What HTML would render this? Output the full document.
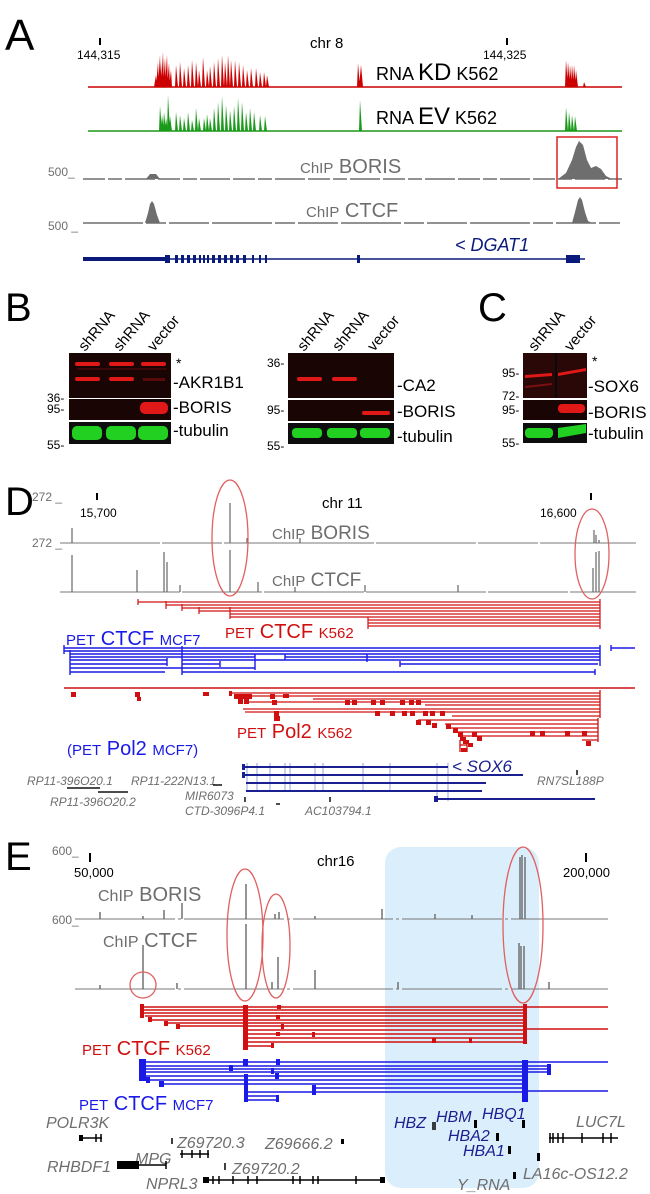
<!DOCTYPE html>
<html><head><meta charset="utf-8"><style>
html,body{margin:0;padding:0;background:#fff;}
svg{display:block;font-family:"Liberation Sans",Arial,sans-serif;}
.g{fill:#6e6e6e}
.it{font-style:italic}
</style></head><body>
<svg width="650" height="1194" viewBox="0 0 650 1194" xmlns="http://www.w3.org/2000/svg">
<!-- ================= PANEL A ================= -->
<text x="5" y="50" font-size="44">A</text>
<rect x="99" y="38" width="2" height="7" fill="#000"/>
<text x="77" y="59" font-size="12">144,315</text>
<text x="310" y="48" font-size="15">chr 8</text>
<rect x="506" y="38" width="2" height="7" fill="#000"/>
<text x="483" y="59" font-size="12">144,325</text>

<!-- RNA KD -->
<line x1="88" y1="87" x2="622" y2="87" stroke="#c00" stroke-width="1.5"/>
<path fill="#c00" d="M154 87L156 75L157 87ZM156 87L158 62L159 87ZM158 87L160 55L161 87ZM160 87L161 62L162 87ZM161 87L163 52L164 87ZM163 87L165 58L166 87ZM165 87L167 55L168 87ZM167 87L169 63L170 87ZM169 87L171 70L172 87ZM175 87L176 65L178 87ZM179 87L180 62L182 87ZM183 87L184 68L186 87ZM187 87L188 65L190 87ZM191 87L192 60L194 87ZM195 87L196 62L198 87ZM198 87L199 70L201 87ZM202 87L203 57L205 87ZM206 87L207 70L209 87ZM209 87L210 66L212 87ZM213 87L214 62L216 87ZM217 87L218 58L220 87ZM221 87L222 55L224 87ZM224 87L225 62L227 87ZM227 87L228 55L230 87ZM230 87L231 60L233 87ZM234 87L235 60L237 87ZM238 87L239 62L241 87ZM242 87L243 65L245 87ZM246 87L247 70L249 87ZM250 87L251 68L253 87ZM255 87L256 68L258 87ZM259 87L260 72L262 87ZM263 87L264 72L266 87ZM266 87L267 75L269 87ZM357 87L358 63L360 87ZM359 87L361 65L363 87ZM565 87L566 60L568 87ZM567 87L568 62L570 87ZM569 87L570 65L572 87ZM571 87L572 65L574 87ZM573 87L574 65L576 87ZM575 87L576 70L578 87ZM583 87L584 82L586 87Z"/>
<text x="376" y="80" font-size="18">RNA <tspan font-size="24">KD</tspan> K562</text>

<!-- RNA EV -->
<line x1="88" y1="131" x2="622" y2="131" stroke="#1a9a1a" stroke-width="1.5"/>
<path fill="#1a9a1a" d="M159 131L160 106L162 131ZM161 131L162 115L164 131ZM163 131L164 112L166 131ZM165 131L166 118L168 131ZM167 131L168 95L170 131ZM169 131L170 116L172 131ZM175 131L176 112L178 131ZM179 131L180 115L182 131ZM183 131L184 118L186 131ZM187 131L188 112L190 131ZM191 131L192 120L194 131ZM195 131L196 108L198 131ZM198 131L199 118L201 131ZM203 131L204 118L206 131ZM206 131L207 114L209 131ZM209 131L210 118L212 131ZM213 131L214 108L216 131ZM217 131L218 102L220 131ZM221 131L222 96L224 131ZM225 131L226 105L228 131ZM229 131L230 110L232 131ZM233 131L234 106L236 131ZM237 131L238 98L240 131ZM241 131L242 102L244 131ZM245 131L246 112L248 131ZM249 131L250 108L252 131ZM253 131L254 112L256 131ZM259 131L260 115L262 131ZM264 131L265 116L267 131ZM359 131L360 100L362 131ZM565 131L566 107L568 131ZM568 131L569 112L571 131ZM571 131L572 115L574 131ZM574 131L575 116L577 131Z"/>
<text x="376" y="124" font-size="18">RNA <tspan font-size="24">EV</tspan> K562</text>

<!-- ChIP BORIS A -->
<text x="48" y="176" font-size="12" class="g">500_</text>
<line x1="83" y1="179" x2="622" y2="179" stroke="#6e6e6e" stroke-width="1.5" stroke-dasharray="22 3 14 3 30 3"/>
<path fill="#6e6e6e" d="M146 179L150 174L156 174L160 179Z"/>
<path fill="#6e6e6e" d="M558 179L566 173L572 160L576 147L579 141L583 145L587 160L591 168L596 166L601 169L606 176L612 179Z"/>
<rect x="557" y="137" width="60" height="51" fill="none" stroke="#d22" stroke-width="1.5"/>
<text x="300" y="173" font-size="20" class="g"><tspan font-size="15">ChIP</tspan> BORIS</text>
<text x="48" y="230" font-size="12" class="g">500 _</text>

<!-- ChIP CTCF A -->
<line x1="83" y1="223" x2="620" y2="223" stroke="#6e6e6e" stroke-width="1.5" stroke-dasharray="60 3 20 3 40 3"/>
<path fill="#6e6e6e" d="M145 223L148 213L150 204L152 201L154 204L157 215L160 223Z"/>
<path fill="#6e6e6e" d="M572 223L575 212L578 200L580 197L582 200L585 212L588 221L592 223Z"/>
<text x="306" y="217" font-size="20" class="g"><tspan font-size="15">ChIP</tspan> CTCF</text>

<!-- DGAT1 -->
<line x1="83" y1="259" x2="165" y2="259" stroke="#0a1a7a" stroke-width="4"/>
<line x1="165" y1="259" x2="585" y2="259" stroke="#0a1a7a" stroke-width="1.5"/>
<g fill="#0a1a7a">
<rect x="165" y="255" width="5" height="8"/><rect x="175" y="255" width="3" height="8"/><rect x="181" y="255" width="3" height="8"/><rect x="187" y="255" width="3" height="8"/><rect x="193" y="255" width="3" height="8"/><rect x="199" y="255" width="2" height="8"/><rect x="203" y="255" width="2" height="8"/><rect x="207" y="255" width="2" height="8"/><rect x="212" y="255" width="3" height="8"/><rect x="218" y="255" width="3" height="8"/><rect x="224" y="255" width="3" height="8"/><rect x="230" y="255" width="3" height="8"/><rect x="236" y="255" width="3" height="8"/><rect x="243" y="255" width="3" height="8"/><rect x="252" y="255" width="2" height="8"/><rect x="259" y="255" width="2" height="8"/><rect x="265" y="255" width="2" height="8"/>
<rect x="357" y="255" width="3" height="8"/>
<rect x="566" y="255" width="14" height="8"/>
</g>
<text x="455" y="251" font-size="18" fill="#0a1a7a" class="it">&lt; DGAT1</text>

<!-- ================= PANEL B ================= -->
<text x="5" y="321" font-size="40">B</text>
<g font-size="15">
<text transform="translate(85,352) rotate(-50)">shRNA</text>
<text transform="translate(120,352) rotate(-50)">shRNA</text>
<text transform="translate(154,352) rotate(-50)">vector</text>
<text transform="translate(304,352) rotate(-50)">shRNA</text>
<text transform="translate(339,352) rotate(-50)">shRNA</text>
<text transform="translate(374,352) rotate(-50)">vector</text>
<text transform="translate(535,352) rotate(-50)">shRNA</text>
<text transform="translate(571,352) rotate(-50)">vector</text>
</g>
<!-- blot 1 -->
<rect x="69" y="353" width="102" height="45" fill="#1a0505"/>
<rect x="69" y="399" width="102" height="21" fill="#1a0505"/>
<rect x="69" y="422" width="102" height="22" fill="#0d0d0d"/>
<g fill="#e01818">
<rect x="75" y="362" width="25" height="4" rx="2"/><rect x="109" y="362" width="25" height="4" rx="2"/><rect x="141" y="362" width="25" height="4" rx="2"/>
<rect x="75" y="377" width="25" height="4" rx="2"/><rect x="109" y="377" width="25" height="4" rx="2"/>
<rect x="140" y="402" width="28" height="12" rx="5"/>
</g>
<rect x="143" y="378" width="22" height="3" fill="#5a0a0a"/>
<rect x="77" y="368" width="90" height="2" fill="#3a0808"/>
<g fill="#22d022">
<rect x="72" y="426" width="30" height="14" rx="5"/><rect x="106" y="426" width="30" height="14" rx="5"/><rect x="138" y="426" width="30" height="14" rx="5"/>
</g>
<g font-size="17">
<text x="176" y="368" font-size="14">*</text>
<text x="173" y="388">-AKR1B1</text>
<text x="173" y="413">-BORIS</text>
<text x="173" y="436">-tubulin</text>
</g>
<g font-size="12">
<text x="47" y="402">36-</text><text x="47" y="413">95-</text><text x="47" y="449">55-</text>
</g>
<!-- blot 2 -->
<rect x="288" y="353" width="106" height="45" fill="#1a0505"/>
<rect x="288" y="400" width="106" height="21" fill="#1a0505"/>
<rect x="288" y="423" width="106" height="21" fill="#0d0d0d"/>
<g fill="#e01818">
<rect x="297" y="377" width="25" height="4" rx="2"/><rect x="332" y="377" width="25" height="4" rx="2"/>
<rect x="362" y="411" width="28" height="4" rx="2"/>
</g>
<g fill="#22d022">
<rect x="292" y="428" width="30" height="10" rx="4"/><rect x="327" y="428" width="30" height="10" rx="4"/><rect x="360" y="428" width="30" height="10" rx="4"/>
</g>
<g font-size="17">
<text x="397" y="391">-CA2</text>
<text x="397" y="417">-BORIS</text>
<text x="397" y="442">-tubulin</text>
</g>
<g font-size="12">
<text x="267" y="367">36-</text><text x="267" y="414">95-</text><text x="267" y="450">55-</text>
</g>
<!-- panel C -->
<text x="478" y="321" font-size="40">C</text>
<rect x="523" y="353" width="64" height="45" fill="#2a0808"/>
<rect x="555" y="353" width="2" height="45" fill="#0a0a0a"/>
<rect x="523" y="400" width="64" height="20" fill="#1a0505"/>
<rect x="523" y="423" width="64" height="20" fill="#0d0d0d"/>
<g fill="#e01818">
<path d="M525 375L552 373L552 376L525 378Z"/><path d="M558 373L586 368L586 371L558 376Z"/>
<rect x="558" y="404" width="27" height="9" rx="4"/>
</g>
<path d="M525 386L552 383L552 385L525 388Z" fill="#7a1010"/>
<g fill="#22d022">
<rect x="525" y="428" width="28" height="10" rx="4"/><path d="M558 428L586 424L586 433L558 438Z"/>
</g>
<g font-size="17">
<text x="592" y="366" font-size="14">*</text>
<text x="588" y="392">-SOX6</text>
<text x="588" y="418">-BORIS</text>
<text x="588" y="439">-tubulin</text>
</g>
<g font-size="12">
<text x="502" y="377">95-</text><text x="502" y="400">72-</text><text x="502" y="414">95-</text><text x="502" y="447">55-</text>
</g>

<!-- ================= PANEL D ================= -->
<text x="5" y="515" font-size="40">D</text>
<text x="32" y="501" font-size="12" class="g">272 _</text>
<text x="32" y="547" font-size="12" class="g">272 _</text>
<rect x="96" y="493" width="2" height="7" fill="#000"/>
<text x="80" y="517" font-size="12">15,700</text>
<text x="322" y="508" font-size="15">chr 11</text>
<rect x="590" y="493" width="2" height="7" fill="#000"/>
<text x="540" y="517" font-size="12">16,600</text>
<line x1="60" y1="543" x2="636" y2="543" stroke="#777" stroke-width="1" stroke-dasharray="100 2 60 2 150 2"/>
<g stroke="#666" stroke-width="1.2">
<line x1="72" y1="543" x2="72" y2="528"/><line x1="230" y1="543" x2="230" y2="503"/><line x1="247" y1="543" x2="247" y2="538"/><line x1="300" y1="543" x2="300" y2="538"/>
<line x1="594" y1="543" x2="594" y2="530"/><line x1="596" y1="543" x2="596" y2="535"/><line x1="599" y1="543" x2="599" y2="540"/>
</g>
<text x="272" y="539" font-size="19" class="g"><tspan font-size="15">ChIP</tspan> BORIS</text>
<line x1="60" y1="592" x2="636" y2="592" stroke="#777" stroke-width="1" stroke-dasharray="120 2 80 2 100 2"/>
<g stroke="#666" stroke-width="1.2">
<line x1="72" y1="592" x2="72" y2="555"/><line x1="137" y1="592" x2="137" y2="570"/><line x1="164" y1="592" x2="164" y2="552"/><line x1="167" y1="592" x2="167" y2="562"/><line x1="180" y1="592" x2="180" y2="585"/><line x1="230" y1="592" x2="230" y2="550"/><line x1="258" y1="592" x2="258" y2="582"/><line x1="295" y1="592" x2="295" y2="587"/><line x1="365" y1="592" x2="365" y2="585"/><line x1="458" y1="592" x2="458" y2="585"/><line x1="593" y1="592" x2="593" y2="568"/><line x1="596" y1="592" x2="596" y2="552"/><line x1="599" y1="592" x2="599" y2="551"/>
</g>
<text x="272" y="586" font-size="19" class="g"><tspan font-size="15">ChIP</tspan> CTCF</text>
<ellipse cx="230" cy="538" rx="18" ry="58" fill="none" stroke="#e06060" stroke-width="1.3"/>
<ellipse cx="592" cy="554" rx="17" ry="45" fill="none" stroke="#e06060" stroke-width="1.3"/>

<!-- PET CTCF K562 (D) -->
<g stroke="#d01010" stroke-width="1.2" fill="none">
<line x1="138" y1="602" x2="600" y2="602"/>
<line x1="166" y1="605" x2="600" y2="605"/>
<line x1="182" y1="608" x2="600" y2="608"/>
<line x1="199" y1="611" x2="600" y2="611"/>
<line x1="230" y1="614" x2="600" y2="614"/>
<line x1="230" y1="617" x2="600" y2="617"/>
<line x1="368" y1="620" x2="600" y2="620"/>
<line x1="368" y1="623" x2="600" y2="623"/>
<line x1="368" y1="626" x2="600" y2="626"/>
<line x1="138" y1="599" x2="138" y2="605"/><line x1="166" y1="601" x2="166" y2="609"/><line x1="182" y1="604" x2="182" y2="611"/><line x1="199" y1="607" x2="199" y2="614"/><line x1="230" y1="607" x2="230" y2="619"/><line x1="368" y1="617" x2="368" y2="629"/><line x1="600" y1="599" x2="600" y2="629"/>
</g>
<text x="225" y="638" font-size="20" fill="#d01010"><tspan font-size="15">PET</tspan> CTCF <tspan font-size="15">K562</tspan></text>
<text x="66" y="645" font-size="20" fill="#1a1ae6"><tspan font-size="15">PET</tspan> CTCF <tspan font-size="15">MCF7</tspan></text>

<!-- PET CTCF MCF7 (D) -->
<g stroke="#1a1ae6" stroke-width="1.4" fill="none">
<line x1="64" y1="648" x2="600" y2="648"/><line x1="611" y1="648" x2="635" y2="648"/>
<line x1="64" y1="651" x2="600" y2="651"/>
<line x1="70" y1="654" x2="600" y2="654"/>
<line x1="70" y1="657" x2="255" y2="657"/><line x1="285" y1="657" x2="600" y2="657"/>
<line x1="70" y1="660" x2="167" y2="660"/><line x1="182" y1="660" x2="600" y2="660"/>
<line x1="70" y1="664" x2="167" y2="664"/><line x1="182" y1="664" x2="220" y2="664"/><line x1="400" y1="664" x2="598" y2="664"/>
<line x1="70" y1="668" x2="255" y2="668"/>
<line x1="70" y1="672" x2="165" y2="672"/><line x1="182" y1="672" x2="595" y2="672"/>
<line x1="64" y1="645" x2="64" y2="654"/><line x1="70" y1="650" x2="70" y2="675"/><line x1="182" y1="646" x2="182" y2="675"/><line x1="167" y1="658" x2="167" y2="666"/><line x1="255" y1="654" x2="255" y2="670"/><line x1="220" y1="661" x2="220" y2="667"/><line x1="600" y1="645" x2="600" y2="666"/><line x1="595" y1="669" x2="595" y2="675"/><line x1="611" y1="645" x2="611" y2="651"/>
<line x1="285" y1="654" x2="285" y2="660"/><line x1="367" y1="654" x2="367" y2="662"/><line x1="400" y1="661" x2="400" y2="667"/>
</g>

<!-- PET Pol2 K562 (D) -->
<line x1="64" y1="688" x2="635" y2="688" stroke="#d01010" stroke-width="1.5"/>
<g stroke="#d01010" stroke-width="1.3" fill="none">
<line x1="230" y1="693" x2="600" y2="693"/>
<line x1="235" y1="696" x2="600" y2="696"/>
<line x1="313" y1="699" x2="600" y2="699"/>
<line x1="245" y1="702" x2="600" y2="702"/>
<line x1="425" y1="705" x2="600" y2="705"/>
<line x1="243" y1="709" x2="600" y2="709"/>
<line x1="245" y1="712" x2="600" y2="712"/>
<line x1="452" y1="716" x2="600" y2="716"/>
<line x1="418" y1="720" x2="598" y2="720"/>
<line x1="445" y1="724" x2="598" y2="724"/>
<line x1="447" y1="728" x2="598" y2="728"/>
<line x1="455" y1="732" x2="598" y2="732"/>
<line x1="459" y1="736" x2="598" y2="736"/>
<line x1="582" y1="740" x2="598" y2="740"/>
<line x1="600" y1="690" x2="600" y2="718"/><line x1="598" y1="718" x2="598" y2="742"/>
<line x1="460" y1="740" x2="460" y2="752"/><line x1="467" y1="740" x2="467" y2="752"/><line x1="460" y1="745" x2="467" y2="745"/>
</g>
<g fill="#d01010">
<rect x="71" y="692" width="5" height="5"/><rect x="135" y="692" width="5" height="5"/><rect x="137" y="697" width="4" height="4"/><rect x="203" y="692" width="6" height="4"/><rect x="229" y="691" width="3" height="5"/>
<rect x="234" y="694" width="6" height="5"/><rect x="240" y="694" width="6" height="5"/><rect x="246" y="694" width="6" height="5"/><rect x="238" y="699" width="5" height="5"/><rect x="244" y="699" width="5" height="5"/><rect x="270" y="694" width="5" height="5"/><rect x="272" y="700" width="5" height="5"/><rect x="283" y="694" width="6" height="4"/>
<rect x="345" y="700" width="5" height="5"/><rect x="352" y="700" width="5" height="5"/><rect x="371" y="700" width="5" height="5"/><rect x="380" y="700" width="5" height="5"/><rect x="400" y="700" width="5" height="5"/><rect x="409" y="700" width="5" height="5"/><rect x="416" y="700" width="5" height="5"/>
<rect x="274" y="711" width="5" height="5"/><rect x="274" y="716" width="6" height="5"/>
<rect x="375" y="711" width="5" height="5"/><rect x="390" y="711" width="5" height="5"/><rect x="402" y="711" width="5" height="5"/><rect x="410" y="711" width="5" height="5"/><rect x="423" y="711" width="5" height="5"/><rect x="430" y="711" width="5" height="5"/><rect x="440" y="711" width="5" height="5"/>
<rect x="416" y="720" width="5" height="5"/><rect x="426" y="720" width="5" height="5"/><rect x="432" y="723" width="5" height="5"/><rect x="446" y="724" width="5" height="5"/><rect x="453" y="728" width="5" height="5"/><rect x="458" y="732" width="5" height="5"/><rect x="460" y="737" width="6" height="4"/><rect x="463" y="740" width="6" height="4"/><rect x="468" y="743" width="5" height="4"/>
<rect x="472" y="732" width="5" height="5"/><rect x="477" y="736" width="5" height="5"/><rect x="530" y="731" width="5" height="5"/><rect x="540" y="731" width="5" height="5"/><rect x="565" y="731" width="5" height="5"/><rect x="582" y="731" width="5" height="5"/>
<rect x="461" y="748" width="6" height="4"/><rect x="586" y="741" width="5" height="5"/>
</g>
<text x="237" y="738" font-size="20" fill="#d01010"><tspan font-size="15">PET</tspan> Pol2 <tspan font-size="15">K562</tspan></text>
<text x="67" y="755" font-size="20" fill="#1a1ae6"><tspan font-size="15">(PET</tspan> Pol2 <tspan font-size="15">MCF7)</tspan></text>

<!-- SOX6 genes -->
<g stroke="#9aa0e0" stroke-width="1">
<line x1="247" y1="763" x2="247" y2="792"/><line x1="257" y1="763" x2="257" y2="792"/><line x1="270" y1="763" x2="270" y2="792"/><line x1="285" y1="763" x2="285" y2="792"/><line x1="290" y1="763" x2="290" y2="792"/><line x1="315" y1="763" x2="315" y2="792"/><line x1="323" y1="763" x2="323" y2="792"/><line x1="363" y1="763" x2="363" y2="792"/><line x1="390" y1="763" x2="390" y2="792"/><line x1="437" y1="763" x2="437" y2="801"/><line x1="448" y1="763" x2="448" y2="801"/>
</g>
<g stroke="#1a2090" stroke-width="2">
<line x1="243" y1="767" x2="448" y2="767"/>
<line x1="243" y1="775" x2="523" y2="775"/>
<line x1="246" y1="783" x2="486" y2="783"/>
<line x1="246" y1="791" x2="482" y2="791"/>
<line x1="434" y1="799" x2="595" y2="799"/>
</g>
<rect x="242" y="764" width="3" height="6" fill="#1a2090"/><rect x="242" y="772" width="3" height="6" fill="#1a2090"/><rect x="434" y="796" width="4" height="6" fill="#1a2090"/>
<text x="452" y="772" font-size="17" fill="#1a2090" class="it">&lt; SOX6</text>
<g font-size="12" class="g it">
<text x="27" y="785">RP11-396O20.1</text>
<text x="131" y="785">RP11-222N13.1</text>
<text x="50" y="806">RP11-396O20.2</text>
<text x="185" y="800">MIR6073</text>
<text x="185" y="815">CTD-3096P4.1</text>
<text x="305" y="815">AC103794.1</text>
<text x="537" y="785">RN7SL188P</text>
</g>
<g stroke="#111" stroke-width="1.5">
<line x1="67" y1="788" x2="100" y2="788"/><line x1="98" y1="792" x2="128" y2="792"/><line x1="213" y1="785" x2="222" y2="785"/><line x1="245" y1="797" x2="245" y2="802"/><line x1="276" y1="804" x2="280" y2="804"/><line x1="330" y1="797" x2="330" y2="802"/><line x1="577" y1="770" x2="577" y2="775"/>
</g>

<!-- ================= PANEL E ================= -->
<rect x="385" y="847" width="154" height="341" rx="16" fill="#dbeefb"/>
<text x="5" y="870" font-size="40">E</text>
<text x="52" y="855" font-size="12" class="g">600_</text>
<text x="52" y="924" font-size="12" class="g">600_</text>
<rect x="89" y="853" width="2" height="9" fill="#000"/>
<text x="74" y="877" font-size="13">50,000</text>
<text x="317" y="866" font-size="15">chr16</text>
<rect x="585" y="853" width="2" height="9" fill="#000"/>
<text x="563" y="877" font-size="13">200,000</text>

<line x1="75" y1="919" x2="608" y2="919" stroke="#777" stroke-width="1" stroke-dasharray="100 3 3 3"/>
<g stroke="#666" stroke-width="1.4">
<line x1="100" y1="919" x2="100" y2="912"/><line x1="143" y1="919" x2="143" y2="916"/><line x1="164" y1="919" x2="164" y2="910"/><line x1="182" y1="919" x2="182" y2="903"/><line x1="246" y1="919" x2="246" y2="884"/><line x1="275" y1="919" x2="275" y2="914"/><line x1="279" y1="919" x2="279" y2="912"/><line x1="315" y1="919" x2="315" y2="916"/><line x1="382" y1="919" x2="382" y2="909"/><line x1="435" y1="919" x2="435" y2="914"/><line x1="472" y1="919" x2="472" y2="915"/>
<line x1="520" y1="919" x2="520" y2="857"/><line x1="522" y1="919" x2="522" y2="855"/><line x1="525" y1="919" x2="525" y2="857"/>
</g>
<text x="98" y="901" font-size="20" class="g"><tspan font-size="16">ChIP</tspan> BORIS</text>
<line x1="75" y1="989" x2="608" y2="989" stroke="#777" stroke-width="1" stroke-dasharray="100 3 3 3"/>
<g stroke="#666" stroke-width="1.4">
<line x1="100" y1="989" x2="100" y2="985"/><line x1="143" y1="989" x2="143" y2="945"/><line x1="177" y1="989" x2="177" y2="983"/><line x1="246" y1="989" x2="246" y2="924"/><line x1="272" y1="989" x2="272" y2="982"/><line x1="278" y1="989" x2="278" y2="957"/><line x1="315" y1="989" x2="315" y2="970"/><line x1="398" y1="989" x2="398" y2="982"/>
<line x1="519" y1="989" x2="519" y2="943"/><line x1="521" y1="989" x2="521" y2="946"/><line x1="524" y1="989" x2="524" y2="946"/><line x1="549" y1="989" x2="549" y2="982"/>
</g>
<text x="103" y="947" font-size="20" class="g"><tspan font-size="16">ChIP</tspan> CTCF</text>
<g fill="none" stroke="#e06060" stroke-width="1.3">
<circle cx="143" cy="985" r="13"/>
<ellipse cx="245" cy="935" rx="18" ry="66"/>
<ellipse cx="276" cy="946" rx="14" ry="52"/>
<ellipse cx="523" cy="925" rx="20" ry="78"/>
</g>

<!-- PET CTCF K562 (E) -->
<g stroke="#d01010" stroke-width="1.4" fill="none">
<line x1="142" y1="1007" x2="608" y2="1007"/>
<line x1="142" y1="1010" x2="525" y2="1010"/>
<line x1="142" y1="1013" x2="525" y2="1013"/>
<line x1="145" y1="1016" x2="525" y2="1016"/>
<line x1="150" y1="1020" x2="525" y2="1020"/>
<line x1="165" y1="1023" x2="525" y2="1023"/>
<line x1="177" y1="1026" x2="525" y2="1026"/>
<line x1="525" y1="1029" x2="608" y2="1029"/>
<line x1="245" y1="1030" x2="525" y2="1030"/>
<line x1="245" y1="1034" x2="525" y2="1034"/>
<line x1="245" y1="1038" x2="525" y2="1038"/>
<line x1="245" y1="1042" x2="525" y2="1042"/>
<line x1="245" y1="1046" x2="273" y2="1046"/>
</g>
<g fill="#d01010">
<rect x="140" y="1004" width="4" height="14"/><rect x="243" y="1005" width="5" height="45"/><rect x="277" y="1005" width="4" height="4"/><rect x="276" y="1015" width="4" height="4"/><rect x="281" y="1024" width="3" height="5"/><rect x="276" y="1032" width="4" height="4"/><rect x="312" y="1032" width="3" height="5"/><rect x="523" y="1004" width="4" height="40"/><rect x="148" y="1017" width="4" height="5"/><rect x="164" y="1021" width="4" height="5"/><rect x="176" y="1024" width="4" height="5"/><rect x="432" y="1038" width="4" height="5"/><rect x="469" y="1038" width="3" height="5"/><rect x="271" y="1043" width="3" height="5"/>
</g>
<text x="82" y="1055" font-size="20" fill="#d01010"><tspan font-size="15">PET</tspan> CTCF <tspan font-size="15">K562</tspan></text>

<!-- PET CTCF MCF7 (E) -->
<g stroke="#1a1ae6" stroke-width="1.5" fill="none">
<line x1="142" y1="1062" x2="608" y2="1062"/>
<line x1="142" y1="1066" x2="550" y2="1066"/>
<line x1="142" y1="1069" x2="550" y2="1069"/>
<line x1="142" y1="1072" x2="550" y2="1072"/>
<line x1="142" y1="1076" x2="525" y2="1076"/>
<line x1="147" y1="1080" x2="525" y2="1080"/>
<line x1="160" y1="1084" x2="525" y2="1084"/>
<line x1="313" y1="1088" x2="525" y2="1088"/><line x1="525" y1="1091" x2="608" y2="1091"/>
<line x1="245" y1="1092" x2="525" y2="1092"/>
<line x1="245" y1="1096" x2="278" y2="1096"/>
<line x1="245" y1="1100" x2="278" y2="1100"/>
</g>
<g fill="#1a1ae6">
<rect x="139" y="1059" width="7" height="22"/><rect x="243" y="1059" width="5" height="7"/><rect x="244" y="1074" width="4" height="28"/><rect x="276" y="1059" width="4" height="6"/><rect x="275" y="1073" width="4" height="6"/><rect x="229" y="1065" width="4" height="6"/><rect x="271" y="1068" width="3" height="6"/><rect x="159" y="1081" width="5" height="6"/><rect x="312" y="1085" width="4" height="10"/><rect x="522" y="1060" width="6" height="42"/><rect x="547" y="1064" width="4" height="11"/><rect x="276" y="1095" width="3" height="7"/><rect x="146" y="1077" width="4" height="6"/>
</g>
<text x="79" y="1110" font-size="20" fill="#1a1ae6"><tspan font-size="15">PET</tspan> CTCF <tspan font-size="15">MCF7</tspan></text>

<!-- Genes E -->
<g font-size="16" class="it">
<text x="46" y="1128" class="g">POLR3K</text>
<text x="177" y="1148" class="g">Z69720.3</text>
<text x="265" y="1149" class="g">Z69666.2</text>
<text x="135" y="1164" class="g">MPG</text>
<text x="47" y="1172" class="g">RHBDF1</text>
<text x="232" y="1174" class="g">Z69720.2</text>
<text x="146" y="1189" class="g">NPRL3</text>
<text x="576" y="1127" class="g">LUC7L</text>
<text x="523" y="1179" class="g">LA16c-OS12.2</text>
<text x="457" y="1190" class="g">Y_RNA</text>
<text x="394" y="1128" fill="#1a2090">HBZ</text>
<text x="436" y="1122" fill="#1a2090">HBM</text>
<text x="482" y="1119" fill="#1a2090">HBQ1</text>
<text x="448" y="1141" fill="#1a2090">HBA2</text>
<text x="463" y="1156" fill="#1a2090">HBA1</text>
</g>
<g stroke="#000" stroke-width="1.5" fill="#000">
<line x1="80" y1="1138" x2="102" y2="1138"/><rect x="79" y="1135" width="4" height="6" stroke="none"/><line x1="96" y1="1134" x2="96" y2="1142"/><line x1="101" y1="1134" x2="101" y2="1142"/>
<line x1="172" y1="1138" x2="172" y2="1144"/>
<rect x="341" y="1139" width="3" height="5" stroke="none"/>
<line x1="180" y1="1154" x2="209" y2="1154"/><line x1="182" y1="1150" x2="182" y2="1158"/><line x1="192" y1="1150" x2="192" y2="1158"/><line x1="200" y1="1150" x2="200" y2="1158"/><line x1="208" y1="1150" x2="208" y2="1158"/>
<rect x="117" y="1161" width="22" height="8" stroke="none"/><line x1="139" y1="1165" x2="166" y2="1165"/><line x1="166" y1="1161" x2="166" y2="1169"/>
<line x1="225" y1="1163" x2="225" y2="1170"/>
<line x1="203" y1="1180" x2="385" y2="1180"/><rect x="203" y="1177" width="6" height="6" stroke="none"/><rect x="380" y="1177" width="5" height="6" stroke="none"/>
<line x1="213" y1="1176" x2="213" y2="1184"/><line x1="219" y1="1176" x2="219" y2="1184"/><line x1="233" y1="1176" x2="233" y2="1184"/><line x1="248" y1="1176" x2="248" y2="1184"/><line x1="257" y1="1176" x2="257" y2="1184"/><line x1="293" y1="1176" x2="293" y2="1184"/><line x1="300" y1="1176" x2="300" y2="1184"/><line x1="313" y1="1176" x2="313" y2="1184"/><line x1="318" y1="1176" x2="318" y2="1184"/><line x1="356" y1="1176" x2="356" y2="1184"/>
<line x1="433" y1="1122" x2="433" y2="1130"/><line x1="435" y1="1122" x2="435" y2="1130"/>
<rect x="474" y="1120" width="3" height="8" stroke="none"/><rect x="522" y="1120" width="3" height="8" stroke="none"/><rect x="496" y="1133" width="3" height="8" stroke="none"/><rect x="508" y="1146" width="3" height="8" stroke="none"/><rect x="537" y="1153" width="3" height="8" stroke="none"/><rect x="513" y="1172" width="3" height="7" stroke="none"/>
<line x1="549" y1="1138" x2="618" y2="1138"/><line x1="550" y1="1133" x2="550" y2="1143"/><line x1="553" y1="1133" x2="553" y2="1143"/><line x1="558" y1="1133" x2="558" y2="1143"/><line x1="563" y1="1133" x2="563" y2="1143"/><line x1="582" y1="1133" x2="582" y2="1143"/><line x1="603" y1="1133" x2="603" y2="1143"/><line x1="611" y1="1133" x2="611" y2="1143"/>
</g>
</svg>
</body></html>
